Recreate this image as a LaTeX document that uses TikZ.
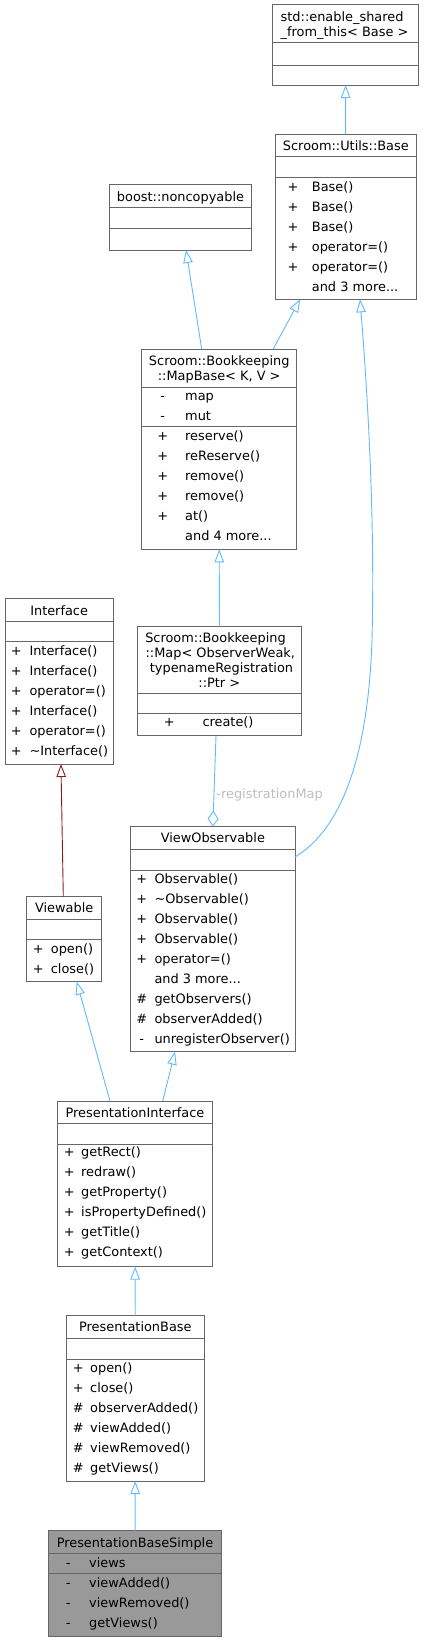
\documentclass[tikz,border=0pt]{standalone}
\usepackage{fontspec}
\setmainfont{DejaVu Sans}
\usepackage{tikz}
\usetikzlibrary{arrows.meta,calc}
\definecolor{edgeblue}{HTML}{63B8FF}
\definecolor{privred}{HTML}{8B1A1A}
\definecolor{boxgray}{HTML}{666666}
\definecolor{rootfill}{HTML}{999999}
\definecolor{labelgray}{HTML}{BEBEBE}
\newcommand{\umlfont}{\fontsize{12.9pt}{15pt}\selectfont}
\newcommand{\moredots}{...}
\tikzset{
  classbox/.style={draw=boxgray, fill=white, line width=1pt, inner sep=0pt, outer sep=0pt},
  rootbox/.style={classbox, fill=rootfill},
  classline/.style={draw=boxgray, line width=1pt},
  classtitle/.style={anchor=base, inner sep=0pt, font=\umlfont},
  vis/.style={anchor=base, inner sep=0pt, font=\umlfont},
  member/.style={anchor=base west, inner sep=0pt, font=\umlfont},
  inherit/.style={draw=edgeblue, line width=0.9pt, -{Triangle[open, length=13pt, width=9.5pt]}},
  privinherit/.style={inherit, draw=privred},
  usage/.style={draw=edgeblue, line width=0.9pt, -{Diamond[open, length=16pt, width=11pt]}},
  edgelabel/.style={font=\umlfont, text=labelgray, inner sep=2pt}
}

\begin{document}
\begin{tikzpicture}[x=1pt, y=-1pt]
  \useasboundingbox (0,0) rectangle (424,1641);

  \node[classbox, minimum width=145.6pt, minimum height=80.3pt] (esft) at (345.5,44.85) {};
  \draw[classline] (esft.west |- 0,42.7) -- (esft.east |- 0,42.7);
  \draw[classline] (esft.west |- 0,65) -- (esft.east |- 0,65);
  \node[member] (esft-t1) at (280.5,21.2) {std::enable\_shared};
  \node[member] (esft-t2) at (280.5,36.2) {\_from\_this< Base >};

  \node[classbox, minimum width=141.7pt, minimum height=165pt] (ubase) at (345.85,216.8) {};
  \draw[classline] (ubase.west |- 0,156.7) -- (ubase.east |- 0,156.7);
  \draw[classline] (ubase.west |- 0,177.3) -- (ubase.east |- 0,177.3);
  \node[classtitle] (ubase-t) at (345.85,150) {Scroom::Utils::Base};
  \foreach \s/\m [count=\k from 0] in {+/Base(), +/Base(), +/Base(), +/operator=(), +/operator=(), {}/and 3 more\moredots} {
    \node[vis] (ubase-s\k) at (293,191.2+20*\k) {\s};
    \node[member] (ubase-m\k) at (311.7,191.2+20*\k) {\m};
  }

  \node[classbox, minimum width=142.4pt, minimum height=65.7pt] (noncopy) at (180.5,217.15) {};
  \draw[classline] (noncopy.west |- 0,207.7) -- (noncopy.east |- 0,207.7);
  \draw[classline] (noncopy.west |- 0,228.3) -- (noncopy.east |- 0,228.3);
  \node[classtitle] (noncopy-t) at (180.5,201.2) {boost::noncopyable};

  \node[classbox, minimum width=155pt, minimum height=200.3pt] (mapbase) at (219.2,449.15) {};
  \draw[classline] (mapbase.west |- 0,387.3) -- (mapbase.east |- 0,387.3);
  \draw[classline] (mapbase.west |- 0,426.7) -- (mapbase.east |- 0,426.7);
  \node[classtitle] (mapbase-t1) at (219.2,365.5) {Scroom::Bookkeeping};
  \node[classtitle] (mapbase-t2) at (219.2,380.2) {::MapBase< K, V >};
  \foreach \s/\m [count=\k from 0] in {-/map, -/mut} {
    \node[vis] (mapbase-as\k) at (162.7,400.5+20*\k) {\s};
    \node[member] (mapbase-a\k) at (185,400.5+20*\k) {\m};
  }
  \foreach \s/\m [count=\k from 0] in {+/reserve(), +/reReserve(), +/remove(), +/remove(), +/at(), {}/and 4 more\moredots} {
    \node[vis] (mapbase-s\k) at (162.7,440.5+20*\k) {\s};
    \node[member] (mapbase-m\k) at (185,440.5+20*\k) {\m};
  }

  \node[classbox, minimum width=108.3pt, minimum height=165.7pt] (iface) at (59.15,681.15) {};
  \draw[classline] (iface.west |- 0,621.7) -- (iface.east |- 0,621.7);
  \draw[classline] (iface.west |- 0,641.7) -- (iface.east |- 0,641.7);
  \node[classtitle] (iface-t) at (59.15,615.2) {Interface};
  \foreach \s/\m [count=\k from 0] in {+/Interface(), +/Interface(), +/operator=(), +/Interface(), +/operator=(), +/\textasciitilde Interface()} {
    \node[vis] (iface-s\k) at (16.3,655.2+20*\k) {\s};
    \node[member] (iface-m\k) at (29.3,655.2+20*\k) {\m};
  }

  \node[classbox, minimum width=164.4pt, minimum height=109pt] (map) at (219.5,681.2) {};
  \draw[classline] (map.west |- 0,693.3) -- (map.east |- 0,693.3);
  \draw[classline] (map.west |- 0,713.3) -- (map.east |- 0,713.3);
  \node[classtitle] (map-t1) at (215.5,642.8) {Scroom::Bookkeeping};
  \node[classtitle] (map-t2) at (220.3,657.5) {::Map< ObserverWeak,};
  \node[classtitle] (map-t3) at (221.5,672.5) {typenameRegistration};
  \node[classtitle] (map-t4) at (219.3,687.2) {::Ptr >};
  \node[vis] (map-s0) at (169.3,726.8) {+};
  \node[member] (map-m0) at (202.3,726.8) {create()};

  \node[classbox, minimum width=164.3pt, minimum height=225pt] (vobs) at (212.85,939.2) {};
  \draw[classline] (vobs.west |- 0,849.3) -- (vobs.east |- 0,849.3);
  \draw[classline] (vobs.west |- 0,870) -- (vobs.east |- 0,870);
  \node[classtitle] (vobs-t) at (212.85,842.8) {ViewObservable};
  \foreach \s/\m [count=\k from 0] in {+/Observable(), +/\textasciitilde Observable(), +/Observable(), +/Observable(), +/operator=(), {}/and 3 more\moredots, \#/getObservers(), \#/observerAdded(), -/unregisterObserver()} {
    \node[vis] (vobs-s\k) at (141.7,883.8+20*\k) {\s};
    \node[member] (vobs-m\k) at (154.3,883.8+20*\k) {\m};
  }

  \node[classbox, minimum width=75pt, minimum height=85pt] (viewable) at (64.2,939.2) {};
  \draw[classline] (viewable.west |- 0,919.3) -- (viewable.east |- 0,919.3);
  \draw[classline] (viewable.west |- 0,939.3) -- (viewable.east |- 0,939.3);
  \node[classtitle] (viewable-t) at (64.2,912.8) {Viewable};
  \foreach \s/\m [count=\k from 0] in {+/open(), +/close()} {
    \node[vis] (viewable-s\k) at (38.3,953.5+20*\k) {\s};
    \node[member] (viewable-m\k) at (50.7,953.5+20*\k) {\m};
  }

  \node[classbox, minimum width=155.4pt, minimum height=165.7pt] (pinterface) at (135,1183.85) {};
  \draw[classline] (pinterface.west |- 0,1123.3) -- (pinterface.east |- 0,1123.3);
  \draw[classline] (pinterface.west |- 0,1144) -- (pinterface.east |- 0,1144);
  \node[classtitle] (pinterface-t) at (135,1117.2) {PresentationInterface};
  \foreach \s/\m [count=\k from 0] in {+/getRect(), +/redraw(), +/getProperty(), +/isPropertyDefined(), +/getTitle(), +/getContext()} {
    \node[vis] (pinterface-s\k) at (69.2,1156.8+20*\k) {\s};
    \node[member] (pinterface-m\k) at (81,1156.8+20*\k) {\m};
  }

  \node[classbox, minimum width=137.3pt, minimum height=165.3pt] (pbase) at (135.35,1398.35) {};
  \draw[classline] (pbase.west |- 0,1338.3) -- (pbase.east |- 0,1338.3);
  \draw[classline] (pbase.west |- 0,1359) -- (pbase.east |- 0,1359);
  \node[classtitle] (pbase-t) at (135.35,1331.8) {PresentationBase};
  \foreach \s/\m [count=\k from 0] in {+/open(), +/close(), \#/observerAdded(), \#/viewAdded(), \#/viewRemoved(), \#/getViews()} {
    \node[vis] (pbase-s\k) at (78.3,1372.2+20*\k) {\s};
    \node[member] (pbase-m\k) at (90,1372.2+20*\k) {\m};
  }

  \node[rootbox, minimum width=173.4pt, minimum height=105.3pt] (pbsimple) at (135,1583.35) {};
  \draw[classline] (pbsimple.west |- 0,1553.3) -- (pbsimple.east |- 0,1553.3);
  \draw[classline] (pbsimple.west |- 0,1573.3) -- (pbsimple.east |- 0,1573.3);
  \node[classtitle] (pbsimple-t) at (135,1547.2) {PresentationBaseSimple};
  \node[vis] (pbsimple-as0) at (68.3,1567.2) {-};
  \node[member] (pbsimple-a0) at (89,1567.2) {views};
  \foreach \s/\m [count=\k from 0] in {-/viewAdded(), -/viewRemoved(), -/getViews()} {
    \node[vis] (pbsimple-s\k) at (68.3,1587.2+20*\k) {\s};
    \node[member] (pbsimple-m\k) at (89,1587.2+20*\k) {\m};
  }

  \draw[inherit] (ubase) -- (esft);
  \draw[inherit] ([xshift=-17.5pt]mapbase.north) -- ([xshift=5.5pt]noncopy.south);
  \draw[inherit] ([xshift=54pt]mapbase.north) -- ([xshift=-45.8pt]ubase.south);
  \draw[inherit] (map.north) -- (mapbase.south);
  \draw[usage] ([xshift=-3.5pt]map.south) -- node[edgelabel, right, pos=0.65] (regmap) {-registrationMap} (vobs.north);
  \draw[inherit] ([yshift=-30.3pt]vobs.north east) .. controls (340,830) and (368,760) .. (372,640)
    .. controls (375,520) and (368,400) .. ([xshift=14.2pt]ubase.south);
  \draw[privinherit] ([xshift=-0.9pt]viewable.north) -- ([xshift=1.8pt]iface.south);
  \draw[inherit] ([xshift=-25pt]pinterface.north) -- ([xshift=12.5pt]viewable.south);
  \draw[inherit] ([xshift=27.7pt]pinterface.north) -- ([xshift=-37.8pt]vobs.south);
  \draw[inherit] (pbase) -- (pinterface);
  \draw[inherit] (pbsimple) -- (pbase);
\end{tikzpicture}
\end{document}
